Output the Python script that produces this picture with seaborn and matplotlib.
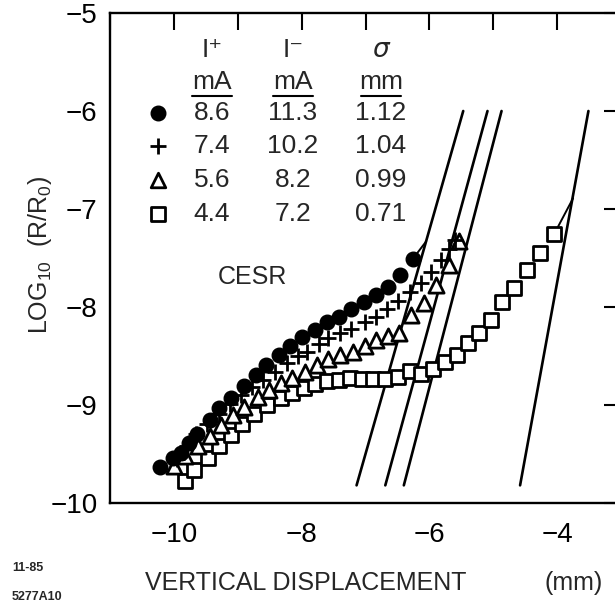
import numpy as np
import pandas as pd
import matplotlib
matplotlib.use("Agg")
import matplotlib.pyplot as plt
from matplotlib.lines import Line2D
import seaborn as sns

# ---------------- data ----------------
circ_x = [-10.21, -10.02, -9.89, -9.76, -9.64, -9.44, -9.29, -9.11, -8.90, -8.72, -8.56, -8.36,
          -8.18, -7.99, -7.79, -7.61, -7.42, -7.22, -7.03, -6.83, -6.65, -6.46, -6.26]
circ_y = [-9.63, -9.54, -9.49, -9.39, -9.30, -9.15, -9.03, -8.93, -8.81, -8.69, -8.59, -8.49,
          -8.40, -8.31, -8.23, -8.15, -8.10, -8.02, -7.95, -7.88, -7.80, -7.67, -7.51]

plus_x = [-9.95, -9.80, -9.65, -9.48, -9.30, -9.12, -8.95, -8.78, -8.60, -8.41, -8.23, -8.05,
          -7.92, -7.73, -7.58, -7.40, -7.22, -7.01, -6.83, -6.67, -6.49, -6.31, -6.13, -5.97,
          -5.82, -5.70, -5.60]
plus_y = [-9.55, -9.42, -9.30, -9.19, -9.09, -8.99, -8.90, -8.82, -8.74, -8.66, -8.57, -8.50,
          -8.46, -8.38, -8.32, -8.27, -8.22, -8.15, -8.10, -8.02, -7.94, -7.85, -7.75, -7.64,
          -7.52, -7.41, -7.32]

tri_x = [-10.00, -9.82, -9.63, -9.44, -9.26, -9.08, -8.90, -8.69, -8.51, -8.33, -8.15, -7.94,
         -7.76, -7.58, -7.40, -7.19, -7.01, -6.83, -6.65, -6.47, -6.28, -6.08, -5.90, -5.69, -5.53]
tri_y = [-9.62, -9.52, -9.42, -9.32, -9.20, -9.10, -9.02, -8.92, -8.85, -8.78, -8.72, -8.66,
         -8.59, -8.53, -8.49, -8.46, -8.40, -8.34, -8.30, -8.27, -8.08, -7.96, -7.78, -7.57, -7.33]

sq_x = [-9.83, -9.68, -9.47, -9.29, -9.11, -8.93, -8.75, -8.54, -8.33, -8.15, -7.97, -7.79,
        -7.61, -7.42, -7.24, -7.06, -6.88, -6.70, -6.49, -6.31, -6.13, -5.95, -5.76, -5.56,
        -5.40, -5.22, -5.04, -4.86, -4.68, -4.47, -4.27, -4.05]
sq_y = [-9.78, -9.66, -9.54, -9.42, -9.31, -9.19, -9.09, -9.00, -8.93, -8.88, -8.83, -8.79,
        -8.76, -8.74, -8.72, -8.73, -8.73, -8.73, -8.71, -8.65, -8.68, -8.63, -8.56, -8.49,
        -8.37, -8.27, -8.13, -7.95, -7.81, -7.62, -7.45, -7.26]

# steep lines (bottom and top end points)
steep_x0 = [-7.14, -6.69, -6.40, -4.58]
steep_y0 = [-9.82, -9.82, -9.82, -9.82]
steep_x1 = [-5.47, -5.09, -4.87, -3.51]
steep_y1 = [-6.00, -6.00, -6.00, -6.00]

# short connector segments from last point to steep line
conn_circ_x = [-6.26, -6.05]
conn_circ_y = [-7.51, -7.33]
conn_sq_x = [-4.05, -3.75]
conn_sq_y = [-7.26, -6.89]

# table
ip_vals = ["8.6", "7.4", "5.6", "4.4"]
im_vals = ["11.3", "10.2", "8.2", "7.2"]
sig_vals = ["1.12", "1.04", "0.99", "0.71"]

x_ticks = list(range(-11, -2))
x_tick_labels = ["", "\u221210", "", "\u22128", "", "\u22126", "", "\u22124", ""]
y_ticks = [-10, -9, -8, -7, -6, -5]
y_tick_labels = ["\u221210", "\u22129", "\u22128", "\u22127", "\u22126", "\u22125"]

# ---------------- style ----------------
sns.set_theme(style="white")
plt.rcParams["font.family"] = ["Liberation Sans", "DejaVu Sans"]
plt.rcParams["mathtext.fontset"] = "custom"
plt.rcParams["mathtext.rm"] = "Liberation Sans"
plt.rcParams["mathtext.it"] = "Liberation Sans:italic"

W, H = 615, 607
fig = plt.figure(figsize=(W / 100, H / 100), dpi=100)
AX_L, AX_R, AX_T, AX_B = 110, 621, 13, 503
ax = fig.add_axes([AX_L / W, 1 - AX_B / H, (AX_R - AX_L) / W, (AX_B - AX_T) / H])


def apos(px, py):
    return ((px - AX_L) / (AX_R - AX_L), (AX_B - py) / (AX_B - AX_T))


# steep lines
for x0, y0, x1, y1 in zip(steep_x0, steep_y0, steep_x1, steep_y1):
    sns.lineplot(x=[x0, x1], y=[y0, y1], color="black", linewidth=1.9, sort=False,
                 estimator=None, ax=ax, zorder=2)
sns.lineplot(x=conn_circ_x, y=conn_circ_y, color="black", linewidth=1.4, sort=False,
             estimator=None, ax=ax, zorder=2)
sns.lineplot(x=conn_sq_x, y=conn_sq_y, color="black", linewidth=1.4, sort=False,
             estimator=None, ax=ax, zorder=2)

# markers
sns.scatterplot(x=sq_x, y=sq_y, marker="s", s=110, color="white", edgecolor="black",
                linewidth=2.0, ax=ax, zorder=3)
sns.scatterplot(x=tri_x, y=tri_y, marker="^", s=120, color="white", edgecolor="black",
                linewidth=2.0, ax=ax, zorder=4)
sns.scatterplot(x=plus_x, y=plus_y, marker="+", s=120, color="black",
                linewidth=2.0, ax=ax, zorder=5)
sns.scatterplot(x=circ_x, y=circ_y, marker="o", s=110, color="black", edgecolor="black",
                linewidth=1, ax=ax, zorder=6)

ax.set_xlim(-11, -3)
ax.set_ylim(-10, -5)
ax.set_xticks(x_ticks)
ax.set_xticklabels(x_tick_labels)
ax.set_yticks(y_ticks)
ax.set_yticklabels(y_tick_labels)
ax.tick_params(axis="both", direction="in", length=12, width=1.5, top=True, right=True,
               labelsize=20, colors="black")
ax.tick_params(axis="x", pad=14)
ax.tick_params(axis="y", pad=9)
for sp in ax.spines.values():
    sp.set_linewidth(1.7)
    sp.set_color("black")
ax.set_xlabel("")
ax.set_ylabel("")

# table inside
tfs = 19
hdr_y, unit_y = 50, 82
cols = [212, 293, 381]
for cx, t, st in zip(cols, ["I\u207a", "I\u207b", "\u03c3"], ["normal", "normal", "italic"]):
    ax.text(*apos(cx, hdr_y), t, transform=ax.transAxes, ha="center", va="center",
            fontsize=tfs, style=st, family=["DejaVu Sans"] if st == "italic" else None)
for cx, t in zip(cols, ["mA", "mA", "mm"]):
    ax.text(*apos(cx, unit_y), t, transform=ax.transAxes, ha="center", va="center", fontsize=tfs)
    x0, yy = apos(cx - 20, unit_y + 14)
    x1, _ = apos(cx + 20, unit_y + 14)
    ax.add_line(Line2D([x0, x1], [yy, yy], transform=ax.transAxes, color="black", lw=1.5))

row_y = [113, 146, 180, 214]
mk = [dict(marker="o", s=110, c="black"),
      dict(marker="+", s=120, c="black", linewidths=2),
      dict(marker="^", s=110, facecolors="white", edgecolors="black", linewidths=2),
      dict(marker="s", s=110, facecolors="white", edgecolors="black", linewidths=2)]
for i, ry in enumerate(row_y):
    ax.scatter(*apos(158, ry), transform=ax.transAxes, zorder=7, **mk[i])
    for cx, v in zip(cols, [ip_vals[i], im_vals[i], sig_vals[i]]):
        ax.text(*apos(cx, ry), v, transform=ax.transAxes, ha="center", va="center", fontsize=tfs)

ax.text(*apos(252, 277), "CESR", transform=ax.transAxes, ha="center", va="center", fontsize=18)

# axis labels
fig.text(40 / W, 1 - 255 / H, "LOG$_{10}$  (R/R$_0$)", rotation=90, ha="center", va="center",
         fontsize=18)
fig.text(145 / W, 1 - 583 / H, "VERTICAL DISPLACEMENT", ha="left", va="center", fontsize=18)
fig.text(545 / W, 1 - 583 / H, "(mm)", ha="left", va="center", fontsize=18)
fig.text(12 / W, 1 - 568 / H, "11-85", ha="left", va="center", fontsize=9, weight="bold")
fig.text(12 / W, 1 - 597 / H, "5277A10", ha="left", va="center", fontsize=9, weight="bold")

fig.savefig("out.png", dpi=100)
